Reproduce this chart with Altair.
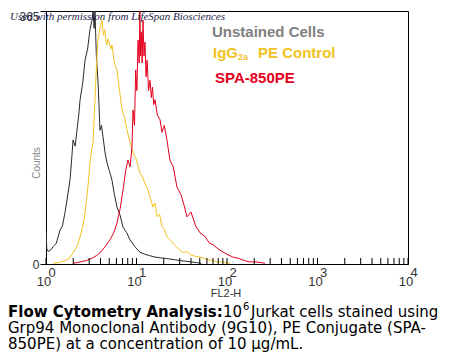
import altair as alt
import pandas as pd

# ---- data ----
series_names = ["Unstained Cells", "IgG2a PE Control", "SPA-850PE"]
series_colors = ["#2a2a2a", "#f2c21e", "#e3001b"]

black_x = [1.0, 1.02, 1.06, 1.12, 1.2, 1.3, 1.43, 1.52, 1.62, 1.72, 1.84, 1.92, 1.99, 2.1, 2.2, 2.3,
           2.38, 2.55, 2.7, 2.88, 3.06, 3.2, 3.31, 3.4, 3.48, 3.6, 3.75, 3.85, 3.95, 4.1, 4.27, 4.5,
           4.72, 5.0, 5.36, 5.7, 6.09, 6.6, 7.1, 7.8, 8.47, 9.6, 10.9, 12.4, 14, 16, 18.2, 21, 24,
           27, 30.2, 35, 40, 46, 52]
black_y = [48, 22, 18, 20, 25, 30, 49, 55, 74, 95, 121, 150, 179, 170, 193, 215, 237, 262, 294,
           310, 338, 350, 365, 340, 365, 300, 265, 230, 193, 200, 183, 160, 146, 135, 121, 100,
           82, 70, 53, 45, 35, 25, 17, 14, 12, 10, 9, 8, 7, 6, 5, 4, 3, 2, 1]

yellow_x = [1.2, 1.35, 1.5, 1.65, 1.8, 1.99, 2.2, 2.38, 2.55, 2.7, 2.9, 3.06, 3.2, 3.31, 3.4, 3.48,
            3.62, 3.75, 3.95, 4.16, 4.3, 4.45, 4.6, 4.72, 4.85, 5.0, 5.2, 5.36, 5.7, 6.09, 6.5,
            6.92, 7.4, 7.85, 8.5, 9.2, 10.0, 10.9, 11.7, 12.5, 13.3, 14.1, 15.2, 16.0, 16.9, 18,
            19, 20.3, 21.7, 23.5, 26, 29, 32.6, 36, 40, 45, 50.3, 56, 62, 70, 77.6, 87, 95, 108]
yellow_y = [1, 2, 3, 5, 8, 16, 25, 39, 55, 74, 110, 146, 165, 175, 210, 237, 290, 323, 340, 352,
            330, 338, 320, 316, 325, 320, 310, 316, 290, 280, 250, 222, 210, 193, 175, 160, 150,
            131, 125, 115, 108, 97, 82, 88, 68, 72, 55, 50, 39, 35, 28, 22, 16, 18, 13, 11, 10,
            8, 6, 5, 3, 3, 2, 1]

red_x = [2.0, 2.38, 2.8, 3.2, 3.6, 3.95, 4.5, 5.1, 5.6, 6.09, 6.6, 7.1, 7.6, 8.05, 8.5, 8.92,
         9.15, 9.5, 9.8, 10.1, 10.4, 10.7, 10.9, 11.1, 11.3, 11.55, 11.8, 12.1, 12.4, 12.75, 13.1,
         13.6, 14.1, 14.6, 15.0, 15.5, 16.0, 17, 18.2, 19.1, 20.3, 21.7, 23.4, 25.5, 28.0, 31,
         33.5, 36.1, 40, 45, 50.3, 57, 64, 70, 77.6, 88, 100, 116, 135, 155, 179, 210, 240, 263]
red_y = [1, 3, 5, 8, 12, 16, 25, 35, 45, 59, 80, 107, 135, 150, 140, 169, 222, 200, 280, 250,
         323, 290, 365, 300, 335, 290, 352, 300, 320, 270, 294, 250, 265, 240, 255, 230, 237,
         215, 208, 190, 200, 179, 150, 140, 111, 100, 85, 68, 75, 55, 45, 40, 30, 28, 23, 18,
         14, 10, 8, 5, 3, 3, 2, 1]

major_ticks = [1, 10, 100, 1000, 10000]
major_exps = ["0", "1", "2", "3", "4"]
minor_mult = [2, 3, 4, 5, 6, 7, 8, 9]
y_ticks = [0, 365]

caption_bold = "Flow Cytometry Analysis:"
caption_l1 = ["10", "6", "Jurkat cells stained using"]
caption_l2 = "Grp94 Monoclonal Antibody (9G10), PE Conjugate (SPA-"
caption_l3 = "850PE) at a concentration of 10 \u03bcg/mL."
watermark = "Used with permission from LifeSpan Biosciences"

# ---- tables ----
rows = []
for name, xs, ys in [(series_names[0], black_x, black_y),
                     (series_names[1], yellow_x, yellow_y),
                     (series_names[2], red_x, red_y)]:
    for i, (a, b) in enumerate(zip(xs, ys)):
        rows.append({"series": name, "fl2h": a, "counts": b, "idx": i})
df = pd.DataFrame(rows)

ticks_df = pd.DataFrame({"v": major_ticks + [m * 10 ** d for d in range(4) for m in minor_mult]})
lab_df = pd.DataFrame({"v": major_ticks, "base": ["10"] * 5, "exp": major_exps})

xscale = alt.Scale(type="log", domain=[1, 10000], nice=False)
yscale = alt.Scale(domain=[0, 365], nice=False, zero=True)

lines = alt.Chart(df).mark_line(strokeWidth=1, clip=True).encode(
    x=alt.X("fl2h:Q", scale=xscale,
            axis=alt.Axis(labels=False, ticks=False, title=None, grid=False,
                          domainColor="black")),
    y=alt.Y("counts:Q", scale=yscale,
            axis=alt.Axis(values=y_ticks, tickSize=6, labelFontSize=12, labelColor="#333333",
                          labelFont="Liberation Sans", title=None, grid=False,
                          labelBaseline={"expr": "datum.value > 0 ? 'top' : 'middle'"},
                          domainColor="black", tickColor="black", labelPadding=1)),
    color=alt.Color("series:N", scale=alt.Scale(domain=series_names, range=series_colors),
                    legend=None),
    order="idx:Q",
)

tick_rules = alt.Chart(ticks_df).mark_rule(color="black", strokeWidth=1).encode(
    x=alt.X("v:Q", scale=xscale), y=alt.value(253), y2=alt.value(247))

xlab = alt.Chart(lab_df).mark_text(font="Liberation Sans", fontSize=13, color="#333333",
                                   baseline="middle", dx=-2).encode(
    x=alt.X("v:Q", scale=xscale), y=alt.value(271), text="base:N")
xexp = alt.Chart(lab_df).mark_text(font="Liberation Sans", fontSize=13, color="#333333",
                                   baseline="middle", dx=6).encode(
    x=alt.X("v:Q", scale=xscale), y=alt.value(262), text="exp:N")


def txt(s, x, y, size, color="black", font="DejaVu Sans", weight="normal", style="normal",
        align="left", angle=0, baseline="alphabetic"):
    kw = dict(font=font, fontSize=size, color=color, fontWeight=weight, fontStyle=style,
              align=align, baseline=baseline)
    if angle:
        kw["angle"] = angle
    return alt.Chart(pd.DataFrame({"t": [s]})).mark_text(**kw).encode(
        x=alt.value(x), y=alt.value(y), text="t:N")


cap = 15
texts = [
    txt("FL2-H", 180, 286, 11, color="#333333", font="Liberation Sans", align="center"),
    txt("Counts", -9, 152, 10, color="#888888", font="Liberation Sans", align="center",
        angle=270, baseline="middle"),
    txt(series_names[0], 166, 26, 15, color="#808080", font="Liberation Sans", weight="bold"),
    txt("IgG", 167, 47, 15, color=series_colors[1], font="Liberation Sans", weight="bold"),
    txt("2a", 192, 49, 9, color=series_colors[1], font="Liberation Sans", weight="bold"),
    txt("PE Control", 212, 47, 15, color=series_colors[1], font="Liberation Sans", weight="bold"),
    txt(series_names[2], 169, 72, 15, color=series_colors[2], font="Liberation Sans",
        weight="bold"),
    txt(watermark, -36, 9, 11, color="#1c1c4a", font="Liberation Serif", style="italic"),
    txt(caption_bold, -38, 306, cap, weight="bold"),
    txt(caption_l1[0], 177, 306, cap),
    txt(caption_l1[1], 197, 299, 10),
    txt(caption_l1[2], 205, 306, cap),
    txt(caption_l2, -38, 322, cap),
    txt(caption_l3, -38, 338, cap),
]

chart = alt.layer(lines, tick_rules, xlab, xexp, *texts).properties(
    width=362, height=253,
    padding={"left": 38, "top": 3, "right": 34, "bottom": 90},
    autosize=alt.AutoSizeParams(type="none"),
    background="white",
).configure_view(stroke="black", strokeWidth=1)

chart.save("out.html", embed_options={"renderer": "svg", "actions": False})
